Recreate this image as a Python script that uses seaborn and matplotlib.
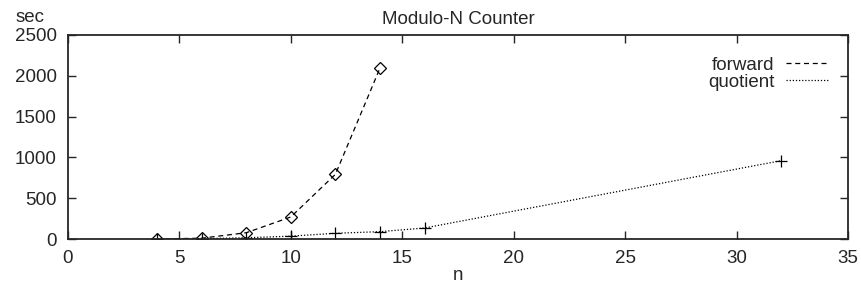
import pandas as pd
import matplotlib
matplotlib.use("Agg")
import matplotlib.pyplot as plt
import seaborn as sns

# values
forward_n = [4, 6, 8, 10, 12, 14]
forward_sec = [0, 10, 77, 270, 793, 2095]
quotient_n = [4, 6, 8, 10, 12, 14, 16, 32]
quotient_sec = [0, 4, 15, 35, 70, 90, 135, 960]

sns.set_style("ticks")
plt.rcParams["font.family"] = ["Liberation Sans", "DejaVu Sans"]
FS = 13.5

fig = plt.figure(figsize=(8.62, 2.88), dpi=100)
ax = fig.add_axes([68 / 862, 49 / 288, 780 / 862, 204 / 288])

fwd = pd.DataFrame({"n": forward_n, "sec": forward_sec})
quo = pd.DataFrame({"n": quotient_n, "sec": quotient_sec})

sns.lineplot(data=fwd, x="n", y="sec", ax=ax, color="black", lw=0.9,
             linestyle=(0, (4, 3)), marker="D", markersize=6.5,
             markerfacecolor="none", markeredgecolor="black",
             markeredgewidth=0.9, label="forward")
sns.lineplot(data=quo, x="n", y="sec", ax=ax, color="black", lw=0.9,
             linestyle=(0, (1, 1.5)), marker="+", markersize=8,
             markeredgecolor="black", markeredgewidth=0.9, label="quotient")

ax.set_xlim(0, 35)
ax.set_ylim(0, 2500)
ax.set_xticks(range(0, 36, 5))
ax.set_yticks(range(0, 2501, 500))
ax.tick_params(direction="in", length=6, width=1, labelsize=FS,
               top=True, right=True, pad=8)
for s in ax.spines.values():
    s.set_linewidth(1.3)
    s.set_visible(True)

ax.set_xlabel("n", fontsize=FS, labelpad=0)
ax.set_ylabel("")
ax.set_title("Modulo-N Counter", fontsize=FS, pad=8)
fig.text(30 / 862, 1 - 17 / 288, "sec", fontsize=FS, ha="center", va="center")

leg = ax.legend(loc="upper right", bbox_to_anchor=(0.985, 0.93), frameon=False,
                markerfirst=False, fontsize=FS, handlelength=2.3,
                labelspacing=0.0, borderaxespad=0, handletextpad=0.6)
for h in leg.legend_handles:
    h.set_marker("")

fig.savefig("out.png", dpi=100)
